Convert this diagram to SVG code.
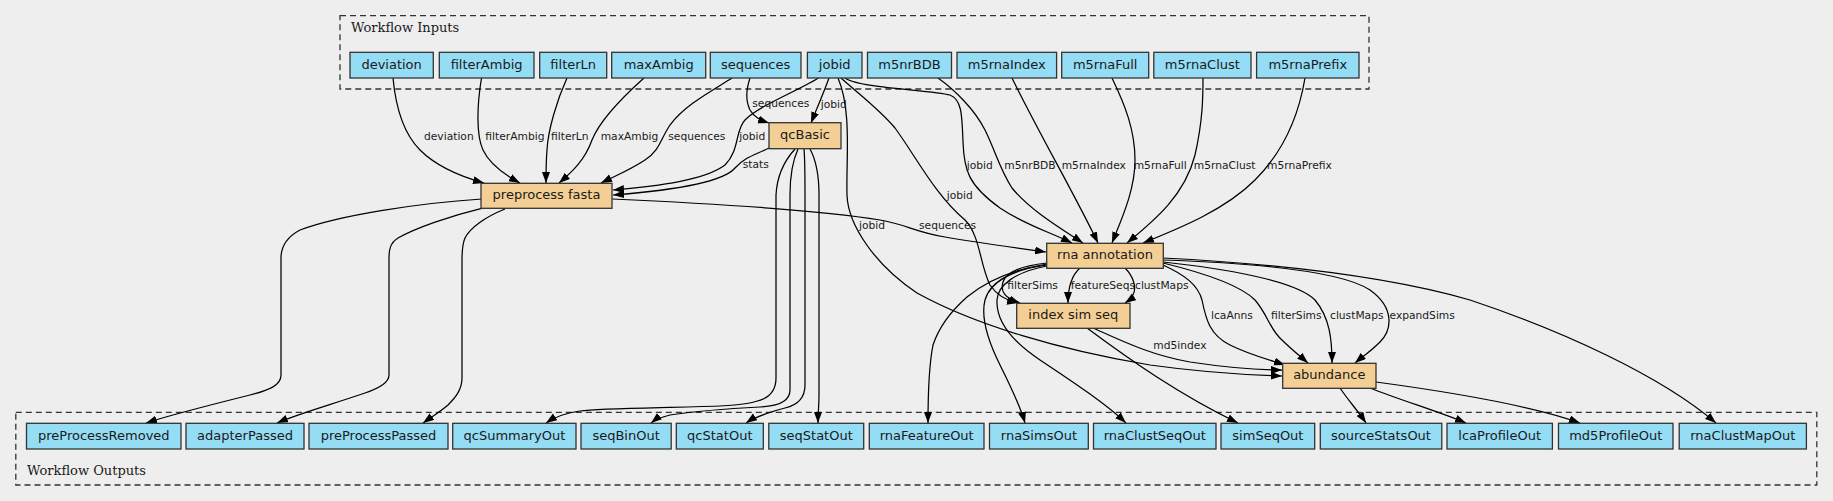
<svg xmlns="http://www.w3.org/2000/svg" width="1833" height="501" viewBox="0 0 1833 501">
<defs>
<marker id="ah" markerUnits="userSpaceOnUse" markerWidth="12" markerHeight="9" refX="11" refY="4" orient="auto">
<path d="M0,0 L11,4 L0,8 z" fill="#000"/>
</marker>
<style>
.bg{fill:#eeeeee}
.cl{fill:none;stroke:#333;stroke-width:1.3;stroke-dasharray:6,4}
.clt{font-family:"DejaVu Serif","Liberation Serif",serif;font-size:13px;fill:#1a1a1a}
.io{fill:#94DDF4;stroke:#333;stroke-width:1.3}
.st{fill:#F3CF95;stroke:#333;stroke-width:1.3}
.nt{font-family:"DejaVu Sans","Liberation Sans",sans-serif;font-size:13px;fill:#1a1a1a;text-anchor:middle}
.e{fill:none;stroke:#000;stroke-width:1.25;marker-end:url(#ah)}
.el{font-family:"DejaVu Sans","Liberation Sans",sans-serif;font-size:10.7px;fill:#1a1a1a}
</style>
</defs>
<rect class="bg" x="0" y="0" width="1833" height="501"/>

<g id="cluster_inputs">
<rect class="cl" x="340" y="15.7" width="1029" height="73.3"/>
<text class="clt" x="351" y="32">Workflow Inputs</text>
</g>
<g id="cluster_outputs">
<rect class="cl" x="15.8" y="412.3" width="1801" height="72.7"/>
<text class="clt" x="27" y="475">Workflow Outputs</text>
</g>

<g id="connectors">
<path class="e" d="M393,78 C396,110 405,135 420,150 C435,165 455,175 484,183"/>
<path class="e" d="M481.5,78 C477,105 476,135 483,150 C490,165 505,175 520,183"/>
<path class="e" d="M567,78 C557,100 548,130 547,150 C546,162 546,172 546,183"/>
<path class="e" d="M644,78 C625,95 600,120 592,140 C585,160 572,172 559,183"/>
<path class="e" d="M732,78 C710,92 685,105 670,125 C660,140 660,150 645,160 C630,170 615,176 601,183"/>
<path class="e" d="M820,77 C800,90 760,105 745,120 C735,130 740,150 725,165 C705,180 660,186 613,190"/>
<path class="e" d="M769,148 C755,155 745,157 735,168 C725,180 690,189 613,195"/>
<path class="e" d="M750,78 C746,90 745,100 750,110 C754,117 760,120 769,123"/>
<path class="e" d="M829,78 C824,92 817,108 811,123"/>
<path class="e" d="M845,78 C858,88 930,90 950,95 C962,100 962,115 963,142 C964,170 968,185 1000,208 C1025,225 1050,232 1072,243"/>
<path class="e" d="M841,78 C860,95 880,110 895,128 C915,155 935,195 965,220 C980,235 980,265 990,285 C998,297 1008,301 1018,303"/>
<path class="e" d="M838,78 C852,110 846,160 847,195 C848,225 875,265 917,293 C975,325 1060,350 1150,365 C1200,372 1250,375 1282,376"/>
<path class="e" d="M938,78 C955,90 975,110 985,130 C995,150 1000,170 1012,188 C1030,210 1060,228 1083,243"/>
<path class="e" d="M1012,78 C1040,135 1075,195 1098,243"/>
<path class="e" d="M1112,78 C1125,105 1135,130 1135,160 C1135,190 1122,218 1112,243"/>
<path class="e" d="M1203,78 C1203,95 1203,120 1195,155 C1185,195 1155,220 1127,243"/>
<path class="e" d="M1305,78 C1298,120 1280,155 1255,180 C1225,210 1180,228 1143,243"/>
<path class="e" d="M612,199 C700,203 820,210 880,220 C905,224 915,232 945,237 C980,243 1010,247 1046,252"/>
<path class="e" d="M481.7,199 C420,203 340,215 300,230 C285,238 281,248 281,258 L281,375 C281,385 270,390 250,395 C210,405 170,415 146,423"/>
<path class="e" d="M481.7,208.3 C450,216 415,228 398,238 C390,243 389,250 389,258 L389,375 C389,382 380,388 365,393 C330,405 300,413 277,423"/>
<path class="e" d="M505,209 C485,217 470,228 465,238 C462,245 462,252 462,260 L462,378 C462,390 455,398 448,405 C440,412 430,418 423,423"/>
<path class="e" d="M795,149 C785,160 777,175 776,195 L776,378 C776,398 762,404 720,406 C660,408 600,408 580,411 C565,413 555,417 546,423"/>
<path class="e" d="M798,149 C793,160 790,175 790,195 L790,390 C790,400 782,406 760,407 C720,409 690,412 670,415 C662,417 656,419 651,423"/>
<path class="e" d="M804,149 C805,160 805,175 805,195 L805,385 C805,398 798,405 785,408 C770,412 755,417 746,423"/>
<path class="e" d="M810,149 C816,160 819,175 819,195 L819,395 C819,405 818,413 818,423"/>
<path class="e" d="M1047,263 C1020,266 1006,272 1003,282 C1000,292 1005,298 1020,303"/>
<path class="e" d="M1080,268 C1072,275 1068,285 1068,303"/>
<path class="e" d="M1125,268 C1133,276 1137,287 1133,295 C1131,299 1128,301 1125,303"/>
<path class="e" d="M1047,264 C1010,270 985,282 967,297 C950,312 938,330 933,345 C928,370 928,400 928,423"/>
<path class="e" d="M1047,265 C1010,270 990,283 985,300 C980,320 990,345 1000,365 C1010,385 1020,405 1025,423"/>
<path class="e" d="M1047,266 C1015,272 998,285 997,300 C996,320 1010,340 1040,360 C1070,380 1105,403 1126,423"/>
<path class="e" d="M1163,258 C1300,265 1400,280 1470,300 C1560,330 1660,375 1716,423"/>
<path class="e" d="M1163,265 C1185,275 1198,285 1202,300 C1206,320 1210,335 1230,345 C1250,355 1270,360 1285,365"/>
<path class="e" d="M1163,263 C1200,272 1240,285 1255,300 C1268,315 1270,330 1282,340 C1292,350 1300,356 1308,363"/>
<path class="e" d="M1163,262 C1220,268 1295,280 1315,300 C1330,318 1332,340 1332,363"/>
<path class="e" d="M1163,260 C1250,263 1340,270 1370,290 C1395,308 1392,330 1380,342 C1370,352 1362,357 1355,363"/>
<path class="e" d="M1093,328 C1120,340 1150,355 1190,362 C1230,368 1260,370 1282,370"/>
<path class="e" d="M1087,328 C1130,360 1180,395 1238,423"/>
<path class="e" d="M1340,388 C1348,400 1358,411 1366,423"/>
<path class="e" d="M1370,388 C1400,400 1440,412 1466,423"/>
<path class="e" d="M1376,382 C1450,392 1530,405 1580,423"/>
<text class="el" x="424" y="139.5">deviation</text>
<text class="el" x="485.3" y="139.5">filterAmbig</text>
<text class="el" x="551" y="139.5">filterLn</text>
<text class="el" x="600.7" y="139.5">maxAmbig</text>
<text class="el" x="668.3" y="139.5">sequences</text>
<text class="el" x="739.3" y="139.5">jobid</text>
<text class="el" x="742.7" y="168">stats</text>
<text class="el" x="752.3" y="107">sequences</text>
<text class="el" x="820.7" y="108">jobid</text>
<text class="el" x="966.7" y="168.5">jobid</text>
<text class="el" x="1004.3" y="168.5">m5nrBDB</text>
<text class="el" x="1061.7" y="168.5">m5rnaIndex</text>
<text class="el" x="1133.7" y="168.5">m5rnaFull</text>
<text class="el" x="1193.8" y="168.5">m5rnaClust</text>
<text class="el" x="1267" y="168.5">m5rnaPrefix</text>
<text class="el" x="946.7" y="198.5">jobid</text>
<text class="el" x="859" y="228.5">jobid</text>
<text class="el" x="919" y="228.5">sequences</text>
<text class="el" x="1007.3" y="288.5">filterSims</text>
<text class="el" x="1070.7" y="288.5">featureSeqs</text>
<text class="el" x="1135" y="288.5">clustMaps</text>
<text class="el" x="1211" y="318.5">lcaAnns</text>
<text class="el" x="1271" y="318.5">filterSims</text>
<text class="el" x="1330" y="318.5">clustMaps</text>
<text class="el" x="1389.5" y="318.5">expandSims</text>
<text class="el" x="1153.3" y="348.5">md5index</text>
</g>

<g id="in_deviation"><rect class="io" x="350" y="52.3" width="83.3" height="25.7"/><text class="nt" x="391.6" y="68.7">deviation</text></g>
<g id="in_filterAmbig"><rect class="io" x="439.3" y="52.3" width="94.7" height="25.7"/><text class="nt" x="486.6" y="68.7">filterAmbig</text></g>
<g id="in_filterLn"><rect class="io" x="539.7" y="52.3" width="67" height="25.7"/><text class="nt" x="573.2" y="68.7">filterLn</text></g>
<g id="in_maxAmbig"><rect class="io" x="611.7" y="52.3" width="94" height="25.7"/><text class="nt" x="658.7" y="68.7">maxAmbig</text></g>
<g id="in_sequences"><rect class="io" x="710.3" y="52.3" width="90.7" height="25.7"/><text class="nt" x="755.6" y="68.7">sequences</text></g>
<g id="in_jobid"><rect class="io" x="807.4" y="52.3" width="54.6" height="25.7"/><text class="nt" x="834.7" y="68.7">jobid</text></g>
<g id="in_m5nrBDB"><rect class="io" x="867.5" y="52.3" width="84" height="25.7"/><text class="nt" x="909.5" y="68.7">m5nrBDB</text></g>
<g id="in_m5rnaIndex"><rect class="io" x="957" y="52.3" width="99.6" height="25.7"/><text class="nt" x="1006.8" y="68.7">m5rnaIndex</text></g>
<g id="in_m5rnaFull"><rect class="io" x="1061.7" y="52.3" width="87" height="25.7"/><text class="nt" x="1105.2" y="68.7">m5rnaFull</text></g>
<g id="in_m5rnaClust"><rect class="io" x="1153.8" y="52.3" width="97.2" height="25.7"/><text class="nt" x="1202.4" y="68.7">m5rnaClust</text></g>
<g id="in_m5rnaPrefix"><rect class="io" x="1256.6" y="52.3" width="102.4" height="25.7"/><text class="nt" x="1307.8" y="68.7">m5rnaPrefix</text></g>

<g id="step_preprocess"><rect class="st" x="481" y="183.3" width="131" height="25"/><text class="nt" x="546.5" y="199.3">preprocess fasta</text></g>
<g id="step_qcBasic"><rect class="st" x="769" y="122.7" width="72" height="26"/><text class="nt" x="805" y="139.3">qcBasic</text></g>
<g id="step_rna_annotation"><rect class="st" x="1046.7" y="243.3" width="116.6" height="25"/><text class="nt" x="1105" y="259.3">rna annotation</text></g>
<g id="step_index_sim_seq"><rect class="st" x="1016.7" y="303.3" width="113.3" height="25"/><text class="nt" x="1073.3" y="319.3">index sim seq</text></g>
<g id="step_abundance"><rect class="st" x="1282.7" y="363.3" width="93.3" height="25"/><text class="nt" x="1329.3" y="379.3">abundance</text></g>

<g id="out_preProcessRemoved"><rect class="io" x="26.5" y="423.3" width="154.5" height="25.7"/><text class="nt" x="103.8" y="439.7">preProcessRemoved</text></g>
<g id="out_adapterPassed"><rect class="io" x="186" y="423.3" width="118" height="25.7"/><text class="nt" x="245" y="439.7">adapterPassed</text></g>
<g id="out_preProcessPassed"><rect class="io" x="309" y="423.3" width="139" height="25.7"/><text class="nt" x="378.5" y="439.7">preProcessPassed</text></g>
<g id="out_qcSummaryOut"><rect class="io" x="452.7" y="423.3" width="123.3" height="25.7"/><text class="nt" x="514.4" y="439.7">qcSummaryOut</text></g>
<g id="out_seqBinOut"><rect class="io" x="581" y="423.3" width="90.2" height="25.7"/><text class="nt" x="626.1" y="439.7">seqBinOut</text></g>
<g id="out_qcStatOut"><rect class="io" x="676.3" y="423.3" width="87" height="25.7"/><text class="nt" x="719.8" y="439.7">qcStatOut</text></g>
<g id="out_seqStatOut"><rect class="io" x="768.8" y="423.3" width="94.9" height="25.7"/><text class="nt" x="816.3" y="439.7">seqStatOut</text></g>
<g id="out_rnaFeatureOut"><rect class="io" x="869.3" y="423.3" width="114.7" height="25.7"/><text class="nt" x="926.7" y="439.7">rnaFeatureOut</text></g>
<g id="out_rnaSimsOut"><rect class="io" x="989.5" y="423.3" width="98.8" height="25.7"/><text class="nt" x="1038.9" y="439.7">rnaSimsOut</text></g>
<g id="out_rnaClustSeqOut"><rect class="io" x="1093.5" y="423.3" width="122.5" height="25.7"/><text class="nt" x="1154.8" y="439.7">rnaClustSeqOut</text></g>
<g id="out_simSeqOut"><rect class="io" x="1221" y="423.3" width="93.7" height="25.7"/><text class="nt" x="1267.9" y="439.7">simSeqOut</text></g>
<g id="out_sourceStatsOut"><rect class="io" x="1320.3" y="423.3" width="121.5" height="25.7"/><text class="nt" x="1381" y="439.7">sourceStatsOut</text></g>
<g id="out_lcaProfileOut"><rect class="io" x="1447" y="423.3" width="105.4" height="25.7"/><text class="nt" x="1499.7" y="439.7">lcaProfileOut</text></g>
<g id="out_md5ProfileOut"><rect class="io" x="1558.5" y="423.3" width="114.5" height="25.7"/><text class="nt" x="1615.8" y="439.7">md5ProfileOut</text></g>
<g id="out_rnaClustMapOut"><rect class="io" x="1679.2" y="423.3" width="127.2" height="25.7"/><text class="nt" x="1742.8" y="439.7">rnaClustMapOut</text></g>
</svg>
